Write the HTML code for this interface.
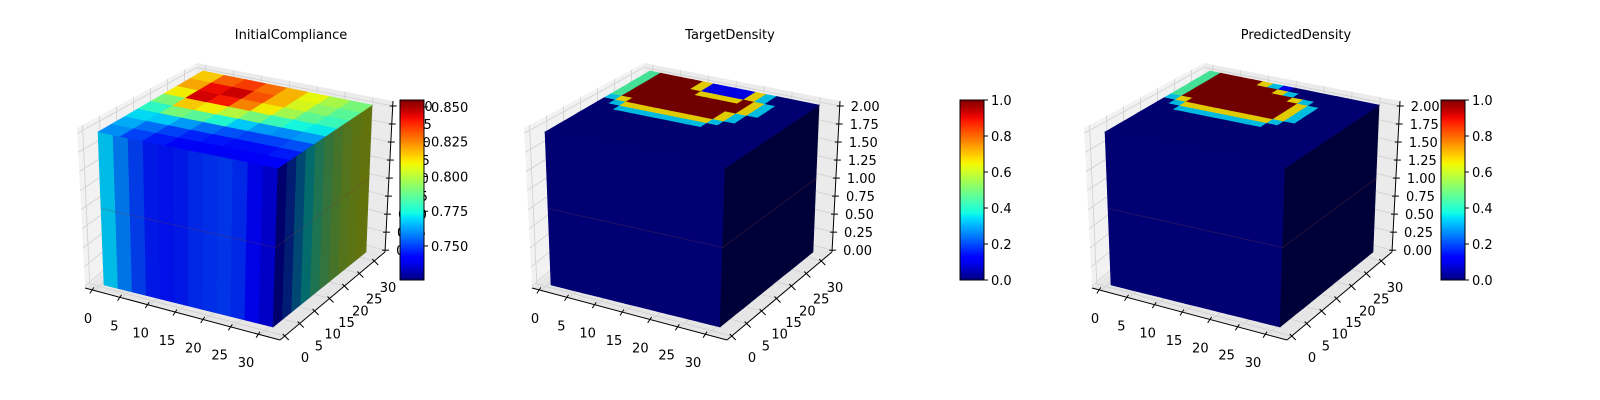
<!DOCTYPE html>
<html><head><meta charset="utf-8">
<style>
html,body{margin:0;padding:0;background:#fff;}
svg{display:block;font-family:"DejaVu Sans","Liberation Sans",sans-serif;}
</style></head>
<body>
<svg id="fig" width="1600" height="400" viewBox="0 0 1600 400" xmlns="http://www.w3.org/2000/svg">
<defs><linearGradient id="jetgrad" x1="0" y1="1" x2="0" y2="0"></linearGradient></defs>
</svg>
<script>
// ---- data ----
const titles = ["InitialCompliance", "TargetDensity", "PredictedDensity"];
const xTickLabels = ["0","5","10","15","20","25","30"];
const yTickLabels = ["0","5","10","15","20","25","30"];
const zTickLabels = ["0.00","0.25","0.50","0.75","1.00","1.25","1.50","1.75","2.00"];
const compTicks = [0.750, 0.775, 0.800, 0.825, 0.850];
const compRange = [0.7255, 0.855];
const densTicks = [0.0, 0.2, 0.4, 0.6, 0.8, 1.0];
const densRange = [0, 1];
// compliance top face, rows back -> front, columns left -> right
const compTop = [
 [0.815,0.830,0.835,0.828,0.818,0.808,0.798,0.790],
 [0.820,0.842,0.846,0.832,0.818,0.805,0.793,0.785],
 [0.810,0.845,0.840,0.825,0.810,0.797,0.786,0.780],
 [0.790,0.815,0.810,0.800,0.790,0.780,0.774,0.772],
 [0.778,0.790,0.785,0.776,0.768,0.762,0.760,0.762],
 [0.770,0.768,0.762,0.756,0.752,0.750,0.750,0.752],
 [0.764,0.756,0.750,0.746,0.744,0.743,0.743,0.745],
 [0.760,0.750,0.745,0.742,0.741,0.740,0.740,0.742]
];
const compFront = [0.768,0.758,0.750,0.745,0.744,0.745,0.747,0.748,0.749,0.747,0.742,0.736];
const compRight = [0.738,0.750,0.762,0.772,0.781,0.789,0.795,0.800,0.803,0.805];
// density top faces (digit d -> value d/9), rows back -> front
const targetTop = [
 "4999961111630000",
 "4999961111630000",
 "4999996666963000",
 "4999999999963000",
 "4999999999963000",
 "4999999999630000",
 "3699999999630000",
 "0366666666300000",
 "0033333333000000",
 "0000000000000000",
 "0000000000000000",
 "0000000000000000",
 "0000000000000000",
 "0000000000000000",
 "0000000000000000",
 "0000000000000000"
];
const predTop = [
 "4999963100000000",
 "4999999630000000",
 "4999999996300000",
 "4999999999630000",
 "4999999999630000",
 "4999999999630000",
 "3699999999630000",
 "0366666666300000",
 "0033333333000000",
 "0000000000000000",
 "0000000000000000",
 "0000000000000000",
 "0000000000000000",
 "0000000000000000",
 "0000000000000000",
 "0000000000000000"
];
const densFront = [0,0,0,0,0,0,0,0,0,0,0,0,0,0,0,0];
const densRight = [0,0,0,0,0,0,0,0,0,0,0,0,0,0,0,0];

// ---- helpers ----
const NS = "http://www.w3.org/2000/svg";
const svg = document.getElementById("fig");
function jet(t){
  t = Math.max(0, Math.min(1, t));
  function lin(pts){ for(let i=1;i<pts.length;i++){ if(t<=pts[i][0]){ const a=pts[i-1],b=pts[i]; return a[1]+(b[1]-a[1])*(t-a[0])/(b[0]-a[0]); } } return pts[pts.length-1][1]; }
  const r = lin([[0,0],[0.35,0],[0.66,1],[0.89,1],[1,0.5]]);
  const g = lin([[0,0],[0.125,0],[0.375,1],[0.64,1],[0.91,0],[1,0]]);
  const b = lin([[0,0.5],[0.11,1],[0.34,1],[0.65,0],[1,0]]);
  return [r,g,b];
}
function rgb(c, s){ return "rgb(" + c.map(v => Math.round(Math.max(0,Math.min(1,v*s))*255)).join(",") + ")"; }
function el(tag, attrs, parent){ const e=document.createElementNS(NS, tag); for(const k in attrs) e.setAttribute(k, attrs[k]); (parent||svg).appendChild(e); return e; }
function bil(q, u, v){
  const x = (1-u)*(1-v)*q[0][0] + u*(1-v)*q[1][0] + u*v*q[2][0] + (1-u)*v*q[3][0];
  const y = (1-u)*(1-v)*q[0][1] + u*(1-v)*q[1][1] + u*v*q[2][1] + (1-u)*v*q[3][1];
  return [x,y];
}
function lerp(a,b,t){ return [a[0]+(b[0]-a[0])*t, a[1]+(b[1]-a[1])*t]; }
function pts(arr){ return arr.map(p => p[0].toFixed(1)+","+p[1].toFixed(1)).join(" "); }

const grad = document.getElementById("jetgrad");
for(let i=0;i<=40;i++){ const t=i/40; el("stop", {offset: t, "stop-color": rgb(jet(t),1)}, grad); }

function drawPanel(p, dx){
  const g = el("g", {});
  
  
  const S = (x,y) => [x+dx, y];
  const L=S(85,288), F=S(280,340), R=S(385,252), B=S(190,199);
  const Lt=S(77,128), Bt=S(197,63), Rt=S(393,101);
  const lp = el("polygon", {points: pts([L,Lt,Bt,B]), fill:"#f2f2f2"}, g);
  
  
  const rp = el("polygon", {points: pts([B,Bt,Rt,R]), fill:"#ebebeb"}, g);
  
  
  const fp = el("polygon", {points: pts([L,B,R,F]), fill:"#e6e6e6"}, g);
  
  
  const gs = {stroke:"#cfcfcf", "stroke-width":0.8, fill:"none"};
  zTickLabels.forEach((lab,k) => {
    const t = 0.012 + k/8*0.955;
    const a = lerp(L,Lt,t), b = lerp(B,Bt,t), c = lerp(R,Rt,t);
    el("polyline", Object.assign({points: pts([a,b,c])}, gs), g);
  });
  const sPos = v => (v+1.6)/35.2;
  xTickLabels.forEach(lab => {
    const s = sPos(+lab);
    const a = lerp(L,F,s), b = lerp(B,R,s), c = lerp(Bt,Rt,s);
    el("polyline", Object.assign({points: pts([a,b,c])}, gs), g);
  });
  yTickLabels.forEach(lab => {
    const s = sPos(+lab);
    const a = lerp(F,R,s), b = lerp(L,B,s), c = lerp(Lt,Bt,s);
    el("polyline", Object.assign({points: pts([a,b,c])}, gs), g);
  });
  const ax = {stroke:"#000", "stroke-width":1, fill:"none"};
  const xa = el("line", Object.assign({x1:L[0],y1:L[1],x2:F[0],y2:F[1]}, ax), g);
  
  
  const ya = el("line", Object.assign({x1:F[0],y1:F[1],x2:R[0],y2:R[1]}, ax), g);
  
  
  const za = el("line", Object.assign({x1:R[0],y1:R[1],x2:Rt[0],y2:Rt[1]}, ax), g);
  
  
  const xl0=S(88,318), xl1=S(246,362);
  xTickLabels.forEach((lab,i) => {
    const s = sPos(+lab);
    const a = lerp(L,F,s);
    el("line", Object.assign({x1:a[0],y1:a[1]-3,x2:a[0]-4,y2:a[1]+3}, ax), g);
    const q = lerp(xl0,xl1,i/(xTickLabels.length-1));
    const t = el("text", {x:q[0], y:q[1]+5, "font-size":13, "text-anchor":"middle", fill:"#000"}, g);
    t.textContent = lab;
    
    
  });
  const yl0=S(305,357), yl1=S(388,287);
  yTickLabels.forEach((lab,i) => {
    const s = sPos(+lab);
    const a = lerp(F,R,s);
    el("line", Object.assign({x1:a[0]-2,y1:a[1]-2,x2:a[0]+4,y2:a[1]+4}, ax), g);
    const q = lerp(yl0,yl1,i/(yTickLabels.length-1));
    const t = el("text", {x:q[0], y:q[1]+5, "font-size":13, "text-anchor":"middle", fill:"#000"}, g);
    t.textContent = lab;
    
    
  });
  zTickLabels.forEach((lab,k) => {
    const t = 0.012 + k/8*0.955;
    const a = lerp(R,Rt,t);
    el("line", Object.assign({x1:a[0]-3,y1:a[1],x2:a[0]+4,y2:a[1]}, ax), g);
    const tx = el("text", {x:a[0]+11, y:a[1]+5, "font-size":13, fill:"#000"}, g);
    tx.textContent = lab;
    
    
  });
  const A=S(104,285), C=S(273,327), D=S(278,168), E=S(98,132), G=S(372,105), H=S(366,252), K=S(203,71);
  let range, top, front, right;
  if(p===0){ range=compRange; top=compTop; front=compFront; right=compRight; }
  else { range=densRange; top=(p===1?targetTop:predTop).map(r => r.split("").map(d => +d/9)); front=densFront; right=densRight; }
  const norm = v => (v-range[0])/(range[1]-range[0]);
  function cell(q, u0,u1,v0,v1, col, name){
    const poly = el("polygon", {points: pts([bil(q,u0,v0),bil(q,u1,v0),bil(q,u1,v1),bil(q,u0,v1)]), fill: col, stroke: col, "stroke-width":0.6}, g);
    
    
  }
  const qF=[A,C,D,E];
  front.forEach((v,i) => { const n=front.length; cell(qF, i/n,(i+1)/n, 0,1, rgb(jet(norm(v)), 0.9), 'front-face-cell'); });
  const qR=[C,H,G,D];
  right.forEach((v,i) => { const n=right.length; cell(qR, i/n,(i+1)/n, 0,1, rgb(jet(norm(v)), p===0?0.45:0.45), 'right-face-cell'); });
  // faint z=1 voxel boundary
  const m1 = bil(qF,0,0.5), m2 = bil(qF,1,0.5), m3 = bil(qR,1,0.5);
  el("polyline", {points: pts([m1,m2,m3]), stroke:"rgba(120,60,60,0.35)", "stroke-width":0.8, fill:"none"}, g);
  const qT=[E,D,G,K];
  const nr = top.length;
  top.forEach((row,r) => {
    const nc = row.length;
    row.forEach((v,c) => {
      const v1 = 1 - r/nr, v0 = 1-(r+1)/nr;
      cell(qT, c/nc,(c+1)/nc, v0,v1, rgb(jet(norm(v)), p===0?0.97:0.88), 'top-face-cell');
    });
  });
  const tc = [291, 730, 1296][p];
  const tt = el("text", {x:tc, y:39, "font-size":13, "text-anchor":"middle", fill:"#000"}, g);
  tt.textContent = titles[p];
  
  
  const cbx = [400, 960, 1441][p], cy0=100, cy1=280;
  const cb = el("rect", {x:cbx, y:cy0, width:24, height:cy1-cy0, fill:"url(#jetgrad)", stroke:"#000", "stroke-width":1}, g);
  
  
  const ticks = p===0 ? compTicks : densTicks;
  ticks.forEach(v => {
    const y = cy1 - norm(v)*(cy1-cy0);
    el("line", {x1:cbx+24, y1:y, x2:cbx+28, y2:y, stroke:"#000", "stroke-width":1}, g);
    const t = el("text", {x:cbx+31, y:y+5, "font-size":13, fill:"#000"}, g);
    t.textContent = p===0 ? v.toFixed(3) : v.toFixed(1);
    
    
  });
}
drawPanel(0, 0);
drawPanel(1, 447);
drawPanel(2, 1007);
</script>
</body></html>
